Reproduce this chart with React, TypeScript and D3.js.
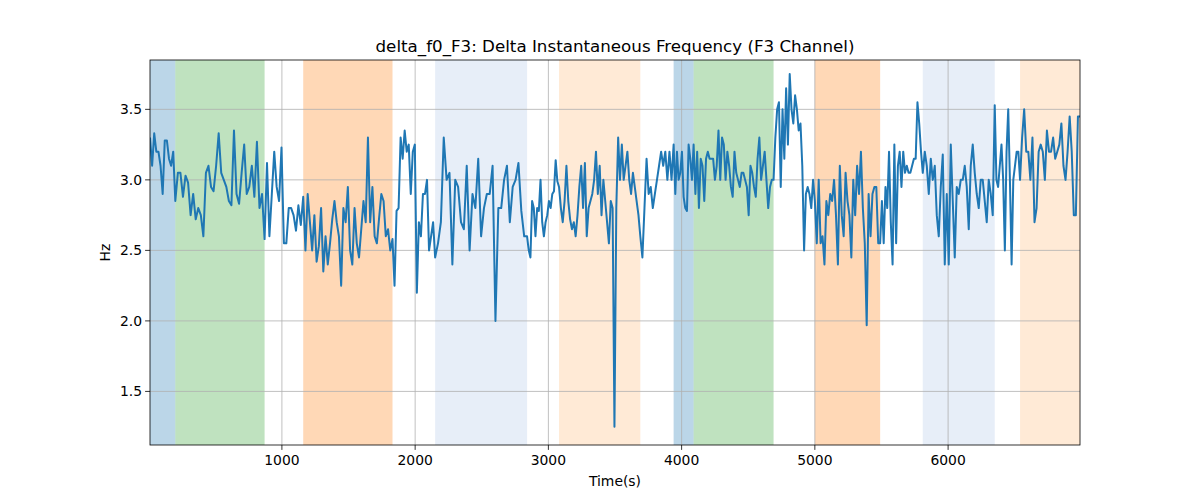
import React from "react";
import * as d3 from "d3";

const segBounds = [10, 200, 870, 1160, 1830, 2150, 2840, 3080, 3690, 3940, 4090, 4690, 5000, 5490, 5810, 6350, 6540, 6990];
const segValues: number[][] = [
  [3.3,3.1,3.33,3.2,3.2,3.1,2.9,3.28,3.28,3.15,3.1,3.2],
  [2.85,3.05,3.05,2.88,3.03,2.98,2.75,2.9,2.72,2.8,2.75,2.6,3.05,3.1,2.95,2.92,3.1,3.33,3.05,3.0,2.95,2.85,2.82,3.35,2.9,2.83,3.05,3.25,2.9,2.95,3.1,2.88,3.27,2.8,2.9],
  [2.58,3.12,2.6,2.9,3.2,2.95,2.85,3.23,2.55,2.55,2.8,2.8,2.75,2.64,2.82,2.68],
  [2.88,2.5,2.9,2.7,2.5,2.75,2.42,2.53,2.8,2.35,2.6,2.4,2.55,2.72,2.85,2.7,2.6,2.25,2.8,2.7,2.95,2.5,2.4,2.8,2.55,2.45,2.65,2.85,2.7,3.3,2.7,2.95,2.6,2.55,2.73,2.9,2.85,2.6,2.65,2.5],
  [2.58,2.25,2.78,2.8,3.3,3.15,3.35,3.2,3.25,2.9,3.2,3.25,2.2,2.7,2.6,2.9,2.9,3.0,2.5,2.6,2.7],
  [2.45,2.55,2.7,3.3,3.0,3.05,2.4,3.0,2.95,2.7,2.65,3.1,2.5,2.9,2.8,3.15,2.6,2.8,2.9,2.9,3.1,2.0,2.8,2.8,3.0,3.1,2.7,2.95,3.0,3.12,2.78,2.6],
  [2.6,2.5,2.45,2.85,2.8,2.6,2.8,2.78,3.0,2.7,2.6,2.7,2.75,2.85,2.8,2.9,2.92,3.14,2.99],
  [2.95,2.8,2.7,2.85,3.1,2.85,2.72,2.65,2.7,2.6,2.75,2.95,3.1,2.8,3.12,2.6,2.8,2.85,2.9,3.0,3.2,2.9,3.1,2.75,3.0,2.85,2.7,2.55,2.85,2.8,1.25,2.8,3.3,3.0,3.25,3.0,3.1,3.2,3.0,2.9,3.05,2.95,2.85,2.75],
  [2.6,2.45,2.8,3.15,2.9,2.95,2.8,2.9,3.0,3.1,3.2,3.1,3.2,3.0,3.2,3.0],
  [3.25,2.9,3.2,3.0,3.05,3.2,2.88,2.8,2.78,3.25,3.15,3.0],
  [3.25,2.9,3.2,2.8,3.15,3.1,2.85,3.15,3.2,3.15,3.15,3.15,3.0,3.1,3.35,3.0,3.3,3.25,3.0,3.2,3.1,2.95,2.88,3.2,3.05,3.0,2.95,3.05,3.05,3.0,2.95,2.75,3.1,3.05,2.95,2.88,3.15,3.3,3.0,3.1,3.2,3.0,2.8,2.95,3.0],
  [3.0,3.3,3.5,3.55,2.95,3.5,3.15,3.65,3.25,3.75,3.5,3.4,3.6,3.5,3.35,3.4,3.1,2.5,2.9,2.95,2.9,2.8,3.0],
  [2.85,2.55,3.0,2.55,2.6,2.4,2.85,2.75,2.9,2.85,3.0,2.75,2.4,3.1,2.75,2.6,3.05,2.85,2.75,2.45,3.0,2.75,3.1,2.9,3.2,2.8,2.55,1.97,2.9,2.6,2.9,2.95,2.95,2.55],
  [2.55,2.85,2.55,2.95,2.8,3.2,2.7,2.4,3.25,2.55,3.1,3.2,2.95,3.2,3.05,3.1,3.05,3.05,3.1,3.15,3.15,3.55,3.4,3.2],
  [3.05,3.2,3.1,2.9,3.15,3.0,3.1,2.75,2.6,2.95,3.18,2.4,2.9,2.4,3.25,2.85,2.45,2.95,2.9,3.0,3.0,3.1,2.95,2.65,3.1,3.25,3.05,2.9,2.8,3.0,3.0,2.85,2.7,3.0,2.9,2.75],
  [3.53,3.0,2.95,3.1,3.25,3.0,2.5,3.2,3.5,3.0,2.4,3.0,3.1,3.2,3.2],
  [3.0,3.3,3.5,3.2,3.2,3.0,3.3,2.7,2.8,3.2,3.25,3.2,3.0,3.35,3.2,3.2,3.3,3.15,3.2,3.25,3.4,3.1,3.0,3.2,3.45,3.2,2.75,2.75,3.45],
];
const bandStarts = [10, 200, 1160, 2150, 3080, 3940, 4090, 5000, 5810, 6540];
const bandEnds = [200, 870, 1830, 2840, 3690, 4090, 4690, 5490, 6350, 7000];
const bandColors = ["#1f77b4", "#2ca02c", "#ff7f0e", "#aec7e8", "#ffbb78", "#1f77b4", "#2ca02c", "#ff7f0e", "#aec7e8", "#ffbb78"];
const bandOpacity = [0.3, 0.3, 0.3, 0.3, 0.3, 0.3, 0.3, 0.3, 0.3, 0.3];
const xTicks = [1000, 2000, 3000, 4000, 5000, 6000];
const yTicks = [1.5, 2.0, 2.5, 3.0, 3.5];

const points: [number, number][] = [];
segValues.forEach((vals, i) => {
  const a = segBounds[i], b = segBounds[i + 1];
  const step = (b - a) / vals.length;
  vals.forEach((v, j) => points.push([a + step * j, v]));
});
points.push([6990, 3.45]);

export default function App() {
  const L = 150, R = 1080, T = 60, B = 445;
  const x = d3.scaleLinear().domain([10, 6990]).range([L, R]);
  const y = d3.scaleLinear().domain([1.12, 3.85]).range([B, T]);
  const line = d3.line<[number, number]>().x(d => x(d[0])).y(d => y(d[1]));
  const font = "DejaVu Sans, sans-serif";
  return (
    <svg width={1200} height={500} style={{ position: "absolute", left: 0, top: 0, background: "#fff" }} fontFamily={font}>
      <defs><clipPath id="c"><rect x={L} y={T} width={R - L} height={B - T} /></clipPath></defs>
      {bandStarts.map((s, i) => (
        <rect key={i} x={x(s)} y={T} width={Math.min(x(bandEnds[i]), R) - x(s)} height={B - T} fill={bandColors[i]} opacity={bandOpacity[i]} />
      ))}
      {xTicks.map(t => <line key={t} x1={x(t)} x2={x(t)} y1={T} y2={B} stroke="#b0b0b0" strokeWidth={0.8} />)}
      {yTicks.map(t => <line key={t} x1={L} x2={R} y1={y(t)} y2={y(t)} stroke="#b0b0b0" strokeWidth={0.8} />)}
      <path d={line(points) || ""} fill="none" stroke="#1f77b4" strokeWidth={2} strokeLinejoin="round" clipPath="url(#c)" />
      <rect x={L} y={T} width={R - L} height={B - T} fill="none" stroke="#000" strokeWidth={0.8} />
      {xTicks.map(t => (
        <g key={t}>
          <line x1={x(t)} x2={x(t)} y1={B} y2={B + 4.9} stroke="#000" strokeWidth={0.8} />
          <text x={x(t)} y={B + 20} fontSize={13.9} textAnchor="middle">{t}</text>
        </g>
      ))}
      {yTicks.map(t => (
        <g key={t}>
          <line x1={L - 4.9} x2={L} y1={y(t)} y2={y(t)} stroke="#000" strokeWidth={0.8} />
          <text x={L - 8} y={y(t) + 5} fontSize={13.9} textAnchor="end">{t.toFixed(1)}</text>
        </g>
      ))}
      <text x={(L + R) / 2} y={52} fontSize={16.7} textAnchor="middle">delta_f0_F3: Delta Instantaneous Frequency (F3 Channel)</text>
      <text x={(L + R) / 2} y={486} fontSize={13.9} textAnchor="middle">Time(s)</text>
      <text transform={`translate(110,${(T + B) / 2}) rotate(-90)`} fontSize={13.9} textAnchor="middle">Hz</text>
    </svg>
  );
}
